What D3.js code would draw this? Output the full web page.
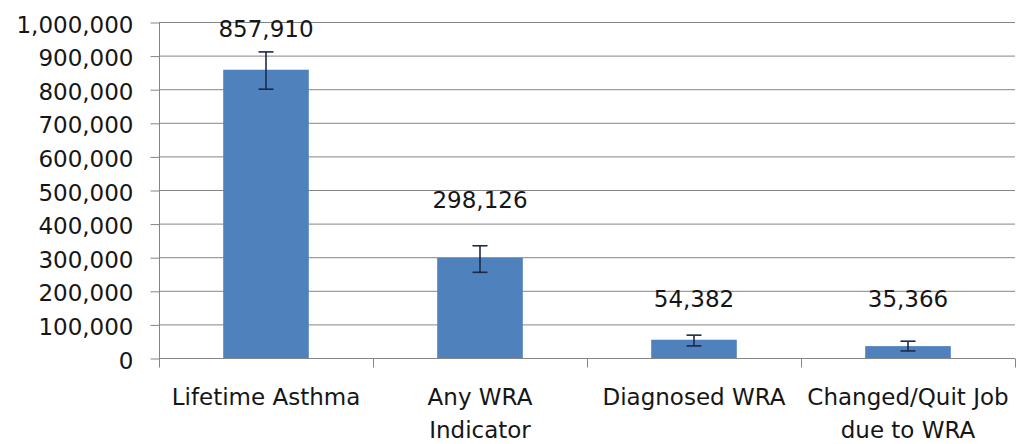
<!DOCTYPE html>
<html>
<head>
<meta charset="utf-8">
<script src="https://cdn.jsdelivr.net/npm/d3@7"></script>
<style>
  html, body { margin: 0; padding: 0; background: #ffffff; }
  svg { display: block; }
  text { font-family: "DejaVu Sans", "Open Sans", sans-serif; fill: #161616; }
</style>
</head>
<body>
<svg id="chart" width="1018" height="444"></svg>
<script>
// ---- data ----
const categories = ["Lifetime Asthma", "Any WRA\nIndicator", "Diagnosed WRA", "Changed/Quit Job\ndue to WRA"];
const values = [857910, 298126, 54382, 35366];
const ciLower = [800000, 255000, 36000, 21000];
const ciUpper = [911000, 334000, 68000, 50000];
const labelLevels = [955000, 446000, 151000, 151000];
const yTicks = [0, 100000, 200000, 300000, 400000, 500000, 600000, 700000, 800000, 900000, 1000000];

// ---- layout ----
const W = 1018, H = 444;
const mLeft = 159, mRight = 1015, mTop = 22, mBottom = 358;
const svg = d3.select("#chart");

const x = d3.scaleBand().domain(categories).range([mLeft, mRight]).padding(0);
const y = d3.scaleLinear().domain([0, 1000000]).range([mBottom, mTop]);
const barW = x.bandwidth() * 0.4;
const fontSize = 23;

// gridlines
svg.append("g")
  .selectAll("line")
  .data(yTicks.filter(d => d > 0))
  .join("line")
  .attr("x1", mLeft).attr("x2", mRight)
  .attr("y1", d => y(d) + 0.5).attr("y2", d => y(d) + 0.5)
  .attr("stroke", "#858585").attr("stroke-width", 1);

// bars
svg.append("g")
  .selectAll("rect")
  .data(values)
  .join("rect")
  .attr("x", (d, i) => x(categories[i]) + (x.bandwidth() - barW) / 2)
  .attr("y", d => y(d))
  .attr("width", barW)
  .attr("height", d => mBottom - y(d))
  .attr("fill", "#4f81bd");

// error bars
const eb = svg.append("g").attr("stroke", "#1c2a48").attr("stroke-width", 1.6);
values.forEach((v, i) => {
  const cx = x(categories[i]) + x.bandwidth() / 2;
  eb.append("line").attr("x1", cx).attr("x2", cx).attr("y1", y(ciUpper[i])).attr("y2", y(ciLower[i]));
  eb.append("line").attr("x1", cx - 7.5).attr("x2", cx + 7.5).attr("y1", y(ciUpper[i])).attr("y2", y(ciUpper[i]));
  eb.append("line").attr("x1", cx - 7.5).attr("x2", cx + 7.5).attr("y1", y(ciLower[i])).attr("y2", y(ciLower[i]));
});

// y axis
const yAxis = d3.axisLeft(y).tickValues(yTicks).tickFormat(d3.format(",")).tickSize(9).tickPadding(17);
const gy = svg.append("g").attr("transform", `translate(${mLeft + 0.5},0)`).call(yAxis);
gy.select(".domain").attr("stroke", "#858585").attr("d", `M0,${mTop}V${mBottom + 8}`);
gy.selectAll(".tick line").attr("stroke", "#858585").attr("transform", "translate(0,0.5)");
gy.selectAll(".tick text")
  .attr("font-size", fontSize).attr("font-family", null)
  .attr("dy", "0.44em").attr("fill", "#161616");

// x axis
const xAxis = d3.axisBottom(x).tickSize(0).tickFormat("");
const gx = svg.append("g").attr("transform", `translate(0,${mBottom + 0.5})`).call(xAxis);
gx.select(".domain").attr("stroke", "#858585").attr("d", `M${mLeft},0H${mRight}`);
gx.selectAll(".tick").remove();
const bounds = categories.map(c => x(c)).concat([mRight]);
gx.selectAll("line.bt").data(bounds).join("line").attr("class", "bt")
  .attr("x1", d => Math.round(d) + 0.5).attr("x2", d => Math.round(d) + 0.5)
  .attr("y1", 0).attr("y2", 9).attr("stroke", "#858585");

// category labels
categories.forEach((c, i) => {
  const cx = x(c) + x.bandwidth() / 2;
  const t = svg.append("text").attr("text-anchor", "middle").attr("font-size", fontSize)
    .attr("x", cx).attr("y", 405);
  c.split("\n").forEach((line, k) => {
    t.append("tspan").attr("x", cx).attr("dy", k === 0 ? 0 : 33).text(line);
  });
});

// value labels
svg.append("g").selectAll("text").data(values).join("text")
  .attr("text-anchor", "middle").attr("font-size", fontSize)
  .attr("x", (d, i) => x(categories[i]) + x.bandwidth() / 2)
  .attr("y", (d, i) => y(labelLevels[i]))
  .text(d => d3.format(",")(d));
</script>
</body>
</html>
